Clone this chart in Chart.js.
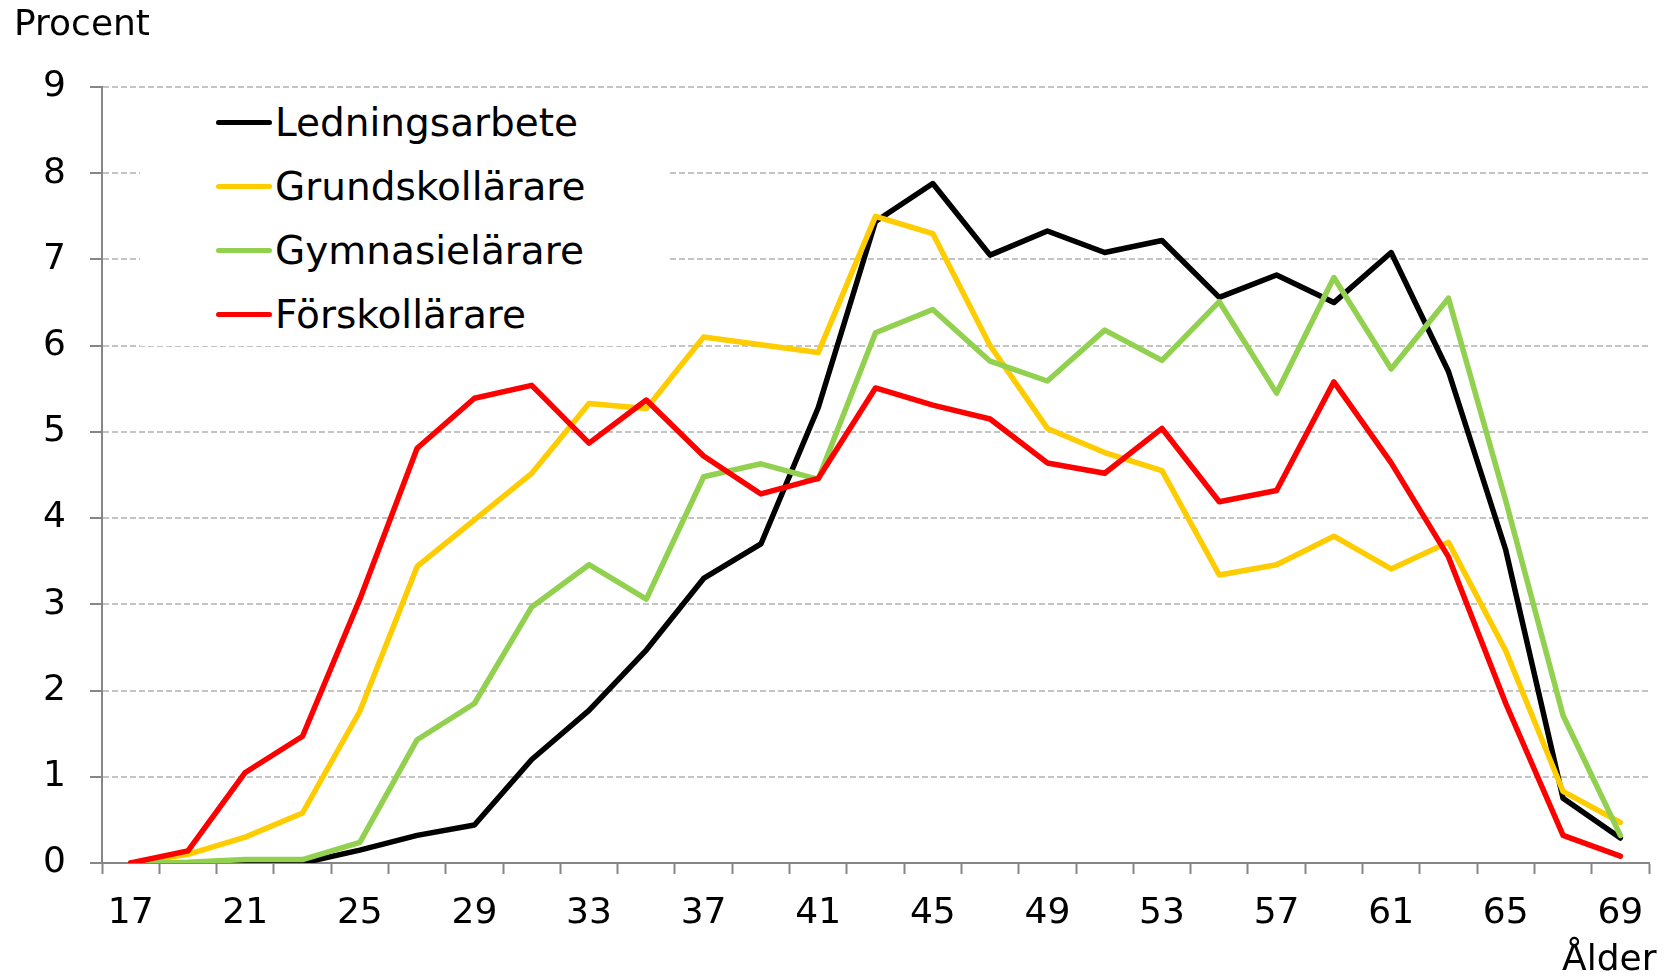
<!DOCTYPE html>
<html lang="sv">
<head>
<meta charset="utf-8">
<title>Andel per ålder</title>
<script src="https://cdn.jsdelivr.net/npm/chart.js@4.4.1/dist/chart.umd.min.js"></script>
<style>
  html, body { margin: 0; padding: 0; background: #fff; }
  #wrap { position: relative; width: 1670px; height: 978px; font-family: 'DejaVu Sans', Verdana, sans-serif; color: #000; }
  #chart { position: absolute; left: 0; top: 0; }
  .lbl { position: absolute; font-size: 36px; line-height: 1; white-space: nowrap; }
  #legend { position: absolute; left: 140px; top: 92px; width: 530px; height: 254px; background: #fff; }
  .item { position: absolute; left: 76px; height: 40px; display: flex; align-items: center; font-size: 39px; line-height: 1; white-space: nowrap; }
  .swatch { width: 56px; height: 5px; border-radius: 3px; margin-right: 3px; }
</style>
</head>
<body>
<div id="wrap">
  <canvas id="chart" width="1670" height="978"></canvas>
  <div class="lbl" style="left:14px; top:5px;">Procent</div>
  <div class="lbl" style="left:1562px; top:940px;">Ålder</div>
  <div id="legend"></div>
</div>
<script>
(function () {
  'use strict';

  // ålder, varannan år
  var ages = [17, 19, 21, 23, 25, 27, 29, 31, 33, 35, 37, 39, 41, 43, 45, 47, 49, 51, 53, 55, 57, 59, 61, 63, 65, 67, 69];

  var ledningsarbete = [0, 0, 0, 0, 0.15, 0.32, 0.44, 1.2, 1.77, 2.47, 3.3, 3.7, 5.28, 7.44, 7.88, 7.05, 7.33, 7.08, 7.22, 6.56, 6.82, 6.5, 7.08, 5.7, 3.63, 0.75, 0.29];
  var grundskollarare = [0, 0.1, 0.3, 0.58, 1.76, 3.44, 3.98, 4.52, 5.33, 5.27, 6.1, 6.01, 5.92, 7.5, 7.3, 6.0, 5.04, 4.76, 4.55, 3.34, 3.46, 3.79, 3.41, 3.72, 2.46, 0.83, 0.47];
  var gymnasielarare = [0, 0.01, 0.04, 0.04, 0.24, 1.43, 1.85, 2.97, 3.46, 3.06, 4.48, 4.63, 4.45, 6.15, 6.42, 5.82, 5.59, 6.18, 5.83, 6.51, 5.45, 6.79, 5.73, 6.55, 4.2, 1.71, 0.32];
  var forskollarare = [0, 0.14, 1.05, 1.47, 3.06, 4.81, 5.39, 5.54, 4.87, 5.37, 4.72, 4.28, 4.46, 5.51, 5.31, 5.15, 4.64, 4.52, 5.04, 4.19, 4.32, 5.58, 4.64, 3.55, 1.85, 0.32, 0.08];

  var yTicks = [0, 1, 2, 3, 4, 5, 6, 7, 8, 9];

  var colors = {
    black: '#000000',
    yellow: '#ffcc00',
    green: '#92d050',
    red: '#ff0000',
    axis: '#868686',
    grid: '#c4c4c4',
  };

  var font = "'DejaVu Sans', Verdana, sans-serif";

  var series = [
    { label: 'Ledningsarbete', data: ledningsarbete, color: colors.black },
    { label: 'Grundskollärare', data: grundskollarare, color: colors.yellow },
    { label: 'Gymnasielärare', data: gymnasielarare, color: colors.green },
    { label: 'Förskollärare', data: forskollarare, color: colors.red },
  ];

  function buildLegend() {
    var box = document.getElementById('legend');
    series.forEach(function (s, i) {
      var item = document.createElement('div');
      item.className = 'item';
      item.style.top = (10 + i * 64) + 'px';
      var sw = document.createElement('span');
      sw.className = 'swatch';
      sw.style.background = s.color;
      var tx = document.createElement('span');
      tx.textContent = s.label;
      item.appendChild(sw);
      item.appendChild(tx);
      box.appendChild(item);
    });
  }

  var datasets = series.map(function (s, i) {
    return {
      label: s.label,
      data: s.data,
      borderColor: s.color,
      backgroundColor: s.color,
      borderWidth: 5.5,
      pointRadius: 0,
      tension: 0,
      fill: false,
      borderJoinStyle: 'round',
      borderCapStyle: 'round',
      order: series.length - i,
    };
  });

  new Chart(document.getElementById('chart'), {
    type: 'line',
    data: { labels: ages, datasets: datasets },
    options: {
      responsive: false,
      animation: false,
      events: [],
      layout: { padding: { top: 87, right: 21, left: 0, bottom: 0 } },
      plugins: {
        legend: { display: false },
        tooltip: { enabled: false },
      },
      scales: {
        x: {
          type: 'category',
          offset: true,
          grid: {
            offset: true,
            drawOnChartArea: false,
            drawTicks: true,
            tickLength: 11,
            tickColor: colors.axis,
            tickWidth: 2,
          },
          border: { display: true, color: colors.axis, width: 2 },
          ticks: {
            autoSkip: false,
            maxRotation: 0,
            padding: 18,
            color: '#000',
            font: { family: font, size: 36 },
            callback: function (val, idx) {
              return idx % 2 === 0 ? ages[idx] : '';
            },
          },
          afterFit: function (scale) { scale.height = 115; },
        },
        y: {
          min: 0,
          max: 9,
          afterBuildTicks: function (scale) {
            scale.ticks = yTicks.map(function (v) { return { value: v }; });
          },
          grid: {
            color: colors.grid,
            lineWidth: 2,
            drawTicks: true,
            tickLength: 12,
            tickColor: colors.axis,
            tickWidth: 2,
            tickBorderDash: [1, 0],
          },
          border: { display: true, color: colors.axis, width: 2, dash: [6, 3] },
          ticks: {
            padding: 24,
            color: '#000',
            font: { family: font, size: 36 },
          },
          afterFit: function (scale) { scale.width = 102; },
        },
      },
    },
  });

  buildLegend();
})();
</script>
</body>
</html>
